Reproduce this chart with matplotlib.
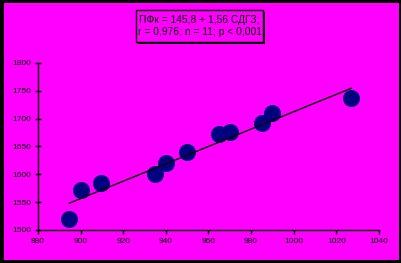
import matplotlib
matplotlib.use("Agg")
import numpy as np
import matplotlib.pyplot as plt
from matplotlib.patches import Rectangle

# data
sdgz = [894.7, 900.0, 909.7, 935.0, 940.0, 949.8, 964.8, 970.0, 985.0, 990.0, 1027.0]
pfk  = [1519, 1571, 1585, 1600, 1620, 1641, 1672, 1676, 1692, 1711, 1738]

# trend line as drawn in the picture (slightly above the printed formula)
LINE_INTERCEPT = 152.5
SLOPE          = 1.56

X_TICKS = [880, 900, 920, 940, 960, 980, 1000, 1020, 1040]
Y_TICKS = [1500, 1550, 1600, 1650, 1700, 1750, 1800]

EQ_TEXT = "ПФк = 145,8 + 1,56 СДГЗ;\nr = 0,976; n = 11; p < 0,001"

MAGENTA = "#FF00FF"
NAVY    = "#000080"
W, H    = 402, 263

plt.rcParams['font.family'] = ['Liberation Sans', 'DejaVu Sans']
fig = plt.figure(figsize=(W / 100, H / 100), dpi=100, facecolor="black")

# magenta panel inside the black frame
fig.patches.append(Rectangle((4 / W, 3 / H), (W - 7) / W, (H - 6) / H,
                             transform=fig.transFigure, facecolor=MAGENTA,
                             edgecolor="none", zorder=-5))

ax = fig.add_axes([38 / W, 1 - 230 / H, (379 - 38) / W, (230 - 63) / H])
ax.set_facecolor("none")
ax.set_zorder(1)

ax.scatter(sdgz, pfk, s=150, color=NAVY, zorder=3, linewidths=0)
xl = np.array([min(sdgz), max(sdgz)])
ax.plot(xl, LINE_INTERCEPT + SLOPE * xl, color="black", lw=1, zorder=4)

ax.set_xlim(880, 1040)
ax.set_ylim(1500, 1800)
ax.set_xticks(X_TICKS)
ax.set_yticks(Y_TICKS)
ax.set_xticklabels([str(t) for t in X_TICKS])
ax.set_yticklabels([str(t) for t in Y_TICKS])
for s in ["top", "right"]:
    ax.spines[s].set_visible(False)
for s in ["left", "bottom"]:
    ax.spines[s].set_linewidth(1)
ax.tick_params(axis="x", direction="out", length=3, width=1, labelsize=6, pad=3)
ax.tick_params(axis="y", direction="inout", length=4, width=1, labelsize=6, pad=3)

# equation box with shadow
bx, by, bw, bh = 136, 10, 127, 32
fig.patches.append(Rectangle(((bx + 2) / W, 1 - (by + bh + 2) / H), bw / W, bh / H,
                             transform=fig.transFigure, facecolor="black",
                             edgecolor="none", zorder=5))
fig.patches.append(Rectangle((bx / W, 1 - (by + bh) / H), bw / W, bh / H,
                             transform=fig.transFigure, facecolor=MAGENTA,
                             edgecolor="black", lw=1, zorder=6))
fig.text((bx + bw / 2) / W, 1 - (by + bh / 2) / H, EQ_TEXT, ha="center", va="center",
         fontsize=7.4, linespacing=1.3, zorder=7)

fig.savefig("out.png", dpi=100, facecolor="black")
